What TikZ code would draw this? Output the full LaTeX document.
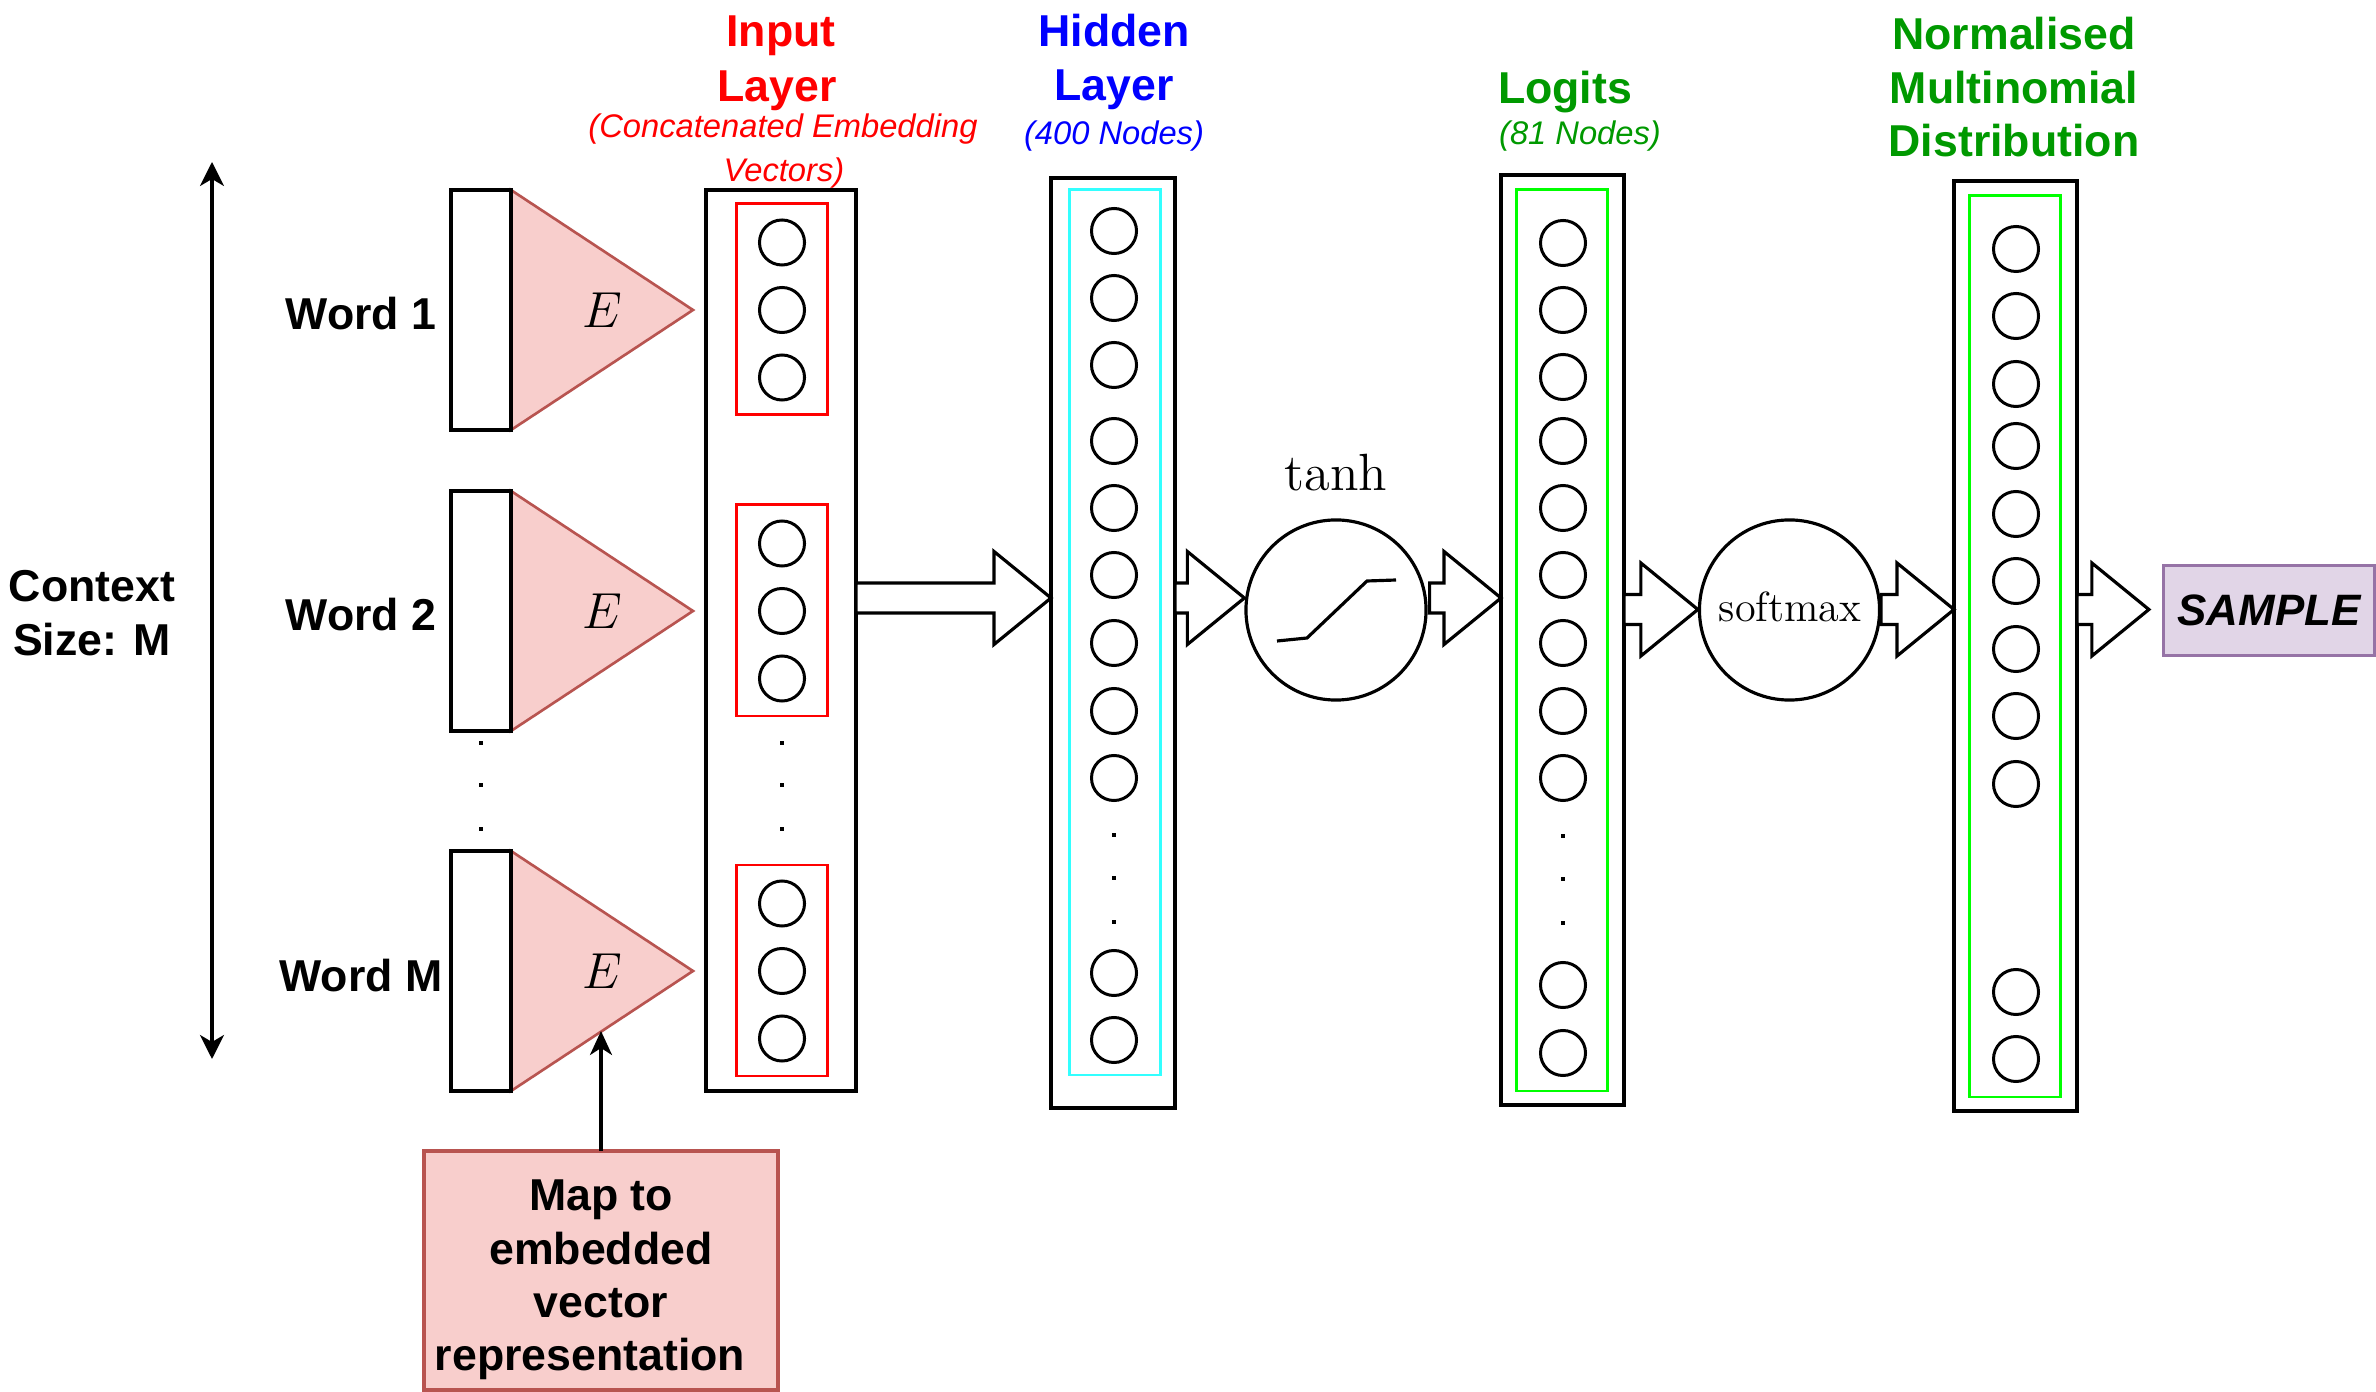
\documentclass[tikz,border=0pt]{standalone}
\usepackage{fontspec}
\newfontfamily\hel{Liberation Sans}
\usetikzlibrary{fit,calc,arrows.meta}
\definecolor{tred}{HTML}{FF0000}
\definecolor{tblue}{HTML}{0000FF}
\definecolor{tgreen}{HTML}{009900}
\definecolor{lgreen}{HTML}{00FF00}
\definecolor{lcyan}{HTML}{33FFFF}
\definecolor{pinkF}{HTML}{F8CECC}
\definecolor{pinkD}{HTML}{B85450}
\definecolor{purF}{HTML}{E1D5E7}
\definecolor{purD}{HTML}{9673A6}
\newcommand\rectnode[6]{\node[#1, inner sep=0pt, outer sep=0pt, fit={(#3,#4) (#5,#6)}] (#2) {};}
\newcommand\blockarrow[2]{%
  \draw[blk] ($(#1)+(0,-15)$) -- ($(#2)+(-57,-15)$) -- ($(#2)+(-57,-46.5)$) -- (#2)
    -- ($(#2)+(-57,46.5)$) -- ($(#2)+(-57,15)$) -- ($(#1)+(0,15)$) -- cycle;}
\tikzset{
  frame/.style={draw=black, line width=0.9pt},
  redbox/.style={draw=tred, line width=0.85pt},
  cyanbox/.style={draw=lcyan, line width=0.85pt},
  greenbox/.style={draw=lgreen, line width=0.85pt},
  neuron/.style={circle, draw=black, line width=0.85pt, minimum size=0.45cm, inner sep=0pt},
  vdot/.style={rectangle, fill=black, minimum size=0.04cm, inner sep=0pt},
  blk/.style={draw=black, fill=white, line width=0.9pt, line join=miter},
  tri/.style={draw=pinkD, fill=pinkF, line width=0.75pt, line join=miter},
  boldlbl/.style={font=\hel\bfseries\fontsize{12.7}{15.2}\selectfont, inner sep=0pt, anchor=base},
  sublbl/.style={font=\hel\itshape\fontsize{9.3}{11}\selectfont, inner sep=0pt, anchor=base},
  act/.style={circle, draw=black, line width=0.9pt, minimum size=1.8cm, inner sep=0pt},
  tipS/.style={line width=0.9pt},
}
\begin{document}
\begin{tikzpicture}[x=0.01cm, y=-0.01cm]
\useasboundingbox (0,0) rectangle (2376,1392);
\fill[white] (0,0) rectangle (2376,1392);

% context size arrow
\coordinate (ctxT) at (212,162);
\coordinate (ctxB) at (212,1059);
\draw[tipS, {Stealth[length=0.24cm,width=0.24cm,inset=0.07cm]}-{Stealth[length=0.24cm,width=0.24cm,inset=0.07cm]}] (ctxT) -- (ctxB);
\node[boldlbl] (ctx1) at (92,601.5) {Context};
\node[boldlbl] (ctx2) at (92,656) {Size: M};

% words and embeddings
\foreach \n/\yt in {1/190,2/491,M/851} {
  \pgfmathsetmacro\yb{\yt+240}
  \filldraw[tri] (511,\yt) -- (693,\yt+120) coordinate (tip\n) -- (511,\yb) -- cycle;
  \rectnode{frame}{w\n}{451}{\yt}{511}{\yb}
  \node[font=\fontsize{13.8}{16}\selectfont, inner sep=0pt] (E\n) at ($(w\n.east)+(91,0)$) {$E$};
  \node[boldlbl] (lab\n) at (361,\yt+140) {Word \n};
}
\foreach \yy [count=\i] in {743,785,829} {
  \node[vdot] (wd\i) at (481,\yy) {};
  \node[vdot] (id\i) at (782,\yy) {};
}

% input layer
\rectnode{frame}{inp}{706}{190}{856}{1091}
\foreach \g/\yt in {1/204,2/505,3/865} {
  \pgfmathsetmacro\yb{\yt+211}
  \rectnode{redbox}{g\g}{736}{\yt}{827}{\yb}
  \foreach \k in {0,1,2} {
    \node[neuron] (in\g\k) at (782,\yt+38.5+67.5*\k) {};
  }
}

% hidden layer
\rectnode{frame}{hid}{1051}{178}{1175}{1108}
\rectnode{cyanbox}{hidin}{1069}{190}{1160}{1075}
\foreach \yy [count=\i] in {231,298,365,441,508,575,643,711,778,973,1040}
  \node[neuron] (h\i) at (1114,\yy) {};
\foreach \yy [count=\i] in {835,878,922}
  \node[vdot] (hd\i) at (1114,\yy) {};

% logits
\rectnode{frame}{logit}{1501}{175}{1624}{1105}
\rectnode{greenbox}{logitin}{1516}{190}{1607}{1091}
\foreach \yy [count=\i] in {243,310,377,441,508,575,643,711,778,985,1053}
  \node[neuron] (l\i) at (1563,\yy) {};
\foreach \yy [count=\i] in {836,879,923}
  \node[vdot] (ld\i) at (1563,\yy) {};

% distribution
\rectnode{frame}{dist}{1954}{181}{2077}{1111}
\rectnode{greenbox}{distin}{1969}{196}{2060}{1097}
\foreach \yy [count=\i] in {249,316,384,446,514,581,649,716,784,992,1059}
  \node[neuron] (d\i) at (2016,\yy) {};

% activations
\node[act] (tanhc) at (1336,610) {};
\node[anchor=base, inner sep=0pt, font=\fontsize{14.9}{18}\selectfont] (tanhlbl) at (1336,491) {$\tanh$};
\draw[line width=0.9pt] ($(tanhc)+(-59,31)$) -- ($(tanhc)+(-29,28)$) -- ($(tanhc)+(31,-29)$) -- ($(tanhc)+(60,-30)$);
\node[act] (smx) at (1789.5,610) {};
\node[anchor=base, inner sep=0pt, font=\fontsize{12}{14}\selectfont] (smxlbl) at (1790,622) {softmax};

% sample
\node[draw=purD, fill=purF, line width=0.9pt, minimum width=2.11cm, minimum height=0.9cm, inner sep=0pt,
      font=\hel\bfseries\itshape\fontsize{12.5}{15}\selectfont] (sample) at (2269,610.5) {SAMPLE};

% block arrows
\coordinate (yA) at (0,598);
\coordinate (yB) at (0,609.5);
\coordinate (a1s) at (inp.east |- yA);   \coordinate (a1t) at (hid.west |- yA);
\coordinate (a2s) at (hid.east |- yA);   \coordinate (a2t) at (tanhc.west |- yA);
\coordinate (a3s) at ($(tanhc.east |- yA)+(2,0)$); \coordinate (a3t) at (logit.west |- yA);
\coordinate (a4s) at (logit.east |- yB); \coordinate (a4t) at (smx.west |- yB);
\coordinate (a5s) at (smx.east |- yB);   \coordinate (a5t) at (dist.west |- yB);
\coordinate (a6s) at (dist.east |- yB);  \coordinate (a6t) at ($(sample.west |- yB)+(-13,0)$);
\blockarrow{a1s}{a1t}
\blockarrow{a2s}{a2t}
\blockarrow{a3s}{a3t}
\blockarrow{a4s}{a4t}
\blockarrow{a5s}{a5t}
\blockarrow{a6s}{a6t}

% map box
\rectnode{draw=pinkD, fill=pinkF, line width=0.9pt}{map}{424}{1151}{778}{1390}
\node[align=center, inner sep=0pt, font=\hel\bfseries\fontsize{12.7}{15.2}\selectfont] (maptext) at (601,1280)
      {Map to\\embedded\\vector\\representation\hspace*{0.22cm}};
\coordinate (emid) at ($(wM.south east)!0.5!(tipM)$);
\draw[tipS, -{Stealth[length=0.24cm,width=0.22cm,inset=0.07cm]}] (map.north) -- (map.north |- emid);

% titles
\node[boldlbl, text=tred] (inT1) at (781,47) {Input};
\node[boldlbl, text=tred] (inT2) at (777,102) {Layer};
\node[sublbl, text=tred] (inT3) at (783,138) {(Concatenated Embedding};
\node[sublbl, text=tred] (inT4) at (784,182) {Vectors)};
\node[boldlbl, text=tblue] (hT1) at (1114,47) {Hidden};
\node[boldlbl, text=tblue] (hT2) at (1114,100.5) {Layer};
\node[sublbl, text=tblue] (hT3) at (1114,145) {(400 Nodes)};
\node[boldlbl, text=tgreen] (lT1) at (1565,103.5) {Logits};
\node[sublbl, text=tgreen] (lT2) at (1580,145) {(81 Nodes)};
\node[boldlbl, text=tgreen] (dT1) at (2014,50) {Normalised};
\node[boldlbl, text=tgreen] (dT2) at (2014,103.5) {Multinomial};
\node[boldlbl, text=tgreen] (dT3) at (2014,157) {Distribution};
\end{tikzpicture}
\end{document}
